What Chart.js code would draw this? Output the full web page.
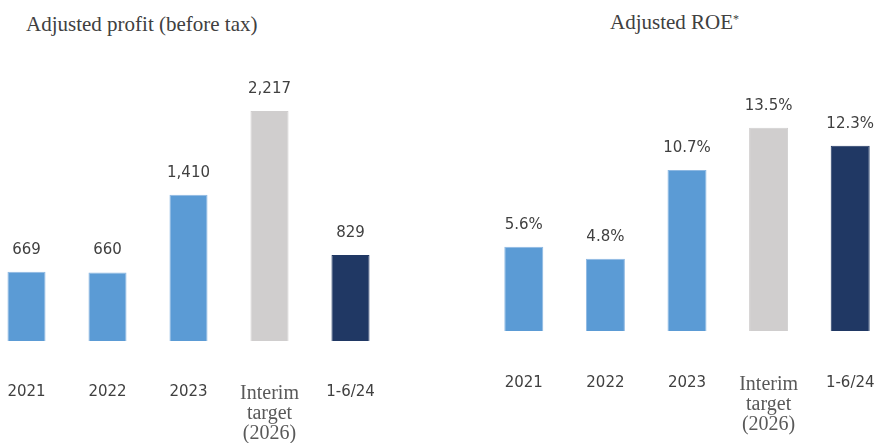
<!DOCTYPE html>
<html>
<head>
<meta charset="utf-8">
<script src="https://cdn.jsdelivr.net/npm/chart.js@4.4.1/dist/chart.umd.min.js"></script>
<style>
  html, body { margin:0; padding:0; width:876px; height:443px; overflow:hidden; background:#fff; position:relative; }
  .title { position:absolute; font-family:"Liberation Serif", serif; font-size:21px; color:#404040; white-space:nowrap; line-height:1; }
  .title sup { font-size:12px; vertical-align:6px; }
  .wrap { position:absolute; top:60px; }
</style>
</head>
<body>
<div class="title" style="left:26px; top:14px;">Adjusted profit (before tax)</div>
<div class="title" style="left:610px; top:12px;">Adjusted ROE<sup>*</sup></div>
<div class="wrap" style="left:-14px; width:405px; height:387px;"><canvas id="c1"></canvas></div>
<div class="wrap" style="left:483px; width:408px; height:383px;"><canvas id="c2"></canvas></div>
<script>
const categories = ["2021", "2022", "2023", ["Interim", "target", "(2026)"], "1-6/24"];
const profitValues = [669, 660, 1410, 2217, 829];
const roeValues = [5.6, 4.8, 10.7, 13.5, 12.3];
const barColors = ["#5B9BD5", "#5B9BD5", "#5B9BD5", "#D0CECE", "#203864"];
const borderColors = ["#8DB8E2", "#8DB8E2", "#8DB8E2", "#D0CECE", "#203864"];

const valueLabels = {
  id: "valueLabels",
  afterDatasetsDraw(chart, args, opts) {
    const ctx = chart.ctx;
    const meta = chart.getDatasetMeta(0);
    ctx.save();
    ctx.font = "15px 'DejaVu Sans'";
    ctx.fillStyle = "#404040";
    ctx.textAlign = "center";
    ctx.textBaseline = "middle";
    meta.data.forEach((bar, i) => {
      ctx.fillText(opts.format(chart.data.datasets[0].data[i]), bar.x, bar.y - 22);
    });
    ctx.restore();
  }
};

function makeChart(id, values, yMax, barPct, fmt, padBottom, tickLen) {
  return new Chart(document.getElementById(id), {
    type: "bar",
    data: {
      labels: categories,
      datasets: [{
        data: values,
        backgroundColor: barColors,
        borderColor: borderColors,
        borderWidth: 1,
        barPercentage: barPct,
        categoryPercentage: 1.0
      }]
    },
    options: {
      responsive: true,
      maintainAspectRatio: false,
      animation: false,
      layout: { padding: { left: 0, right: 0, top: 0, bottom: padBottom } },
      plugins: {
        legend: { display: false },
        tooltip: { enabled: false },
        valueLabels: { format: fmt }
      },
      scales: {
        x: {
          offset: true,
          border: { display: false },
          grid: { display: true, drawOnChartArea: false, drawTicks: true, tickLength: tickLen, color: "rgba(0,0,0,0)" },
          ticks: {
            padding: 3,
            maxRotation: 0,
            autoSkip: false,
            color: (c) => c.index === 3 ? "#595959" : "#404040",
            font: (c) => c.index === 3
              ? { family: "'Liberation Serif'", size: 20, lineHeight: 1.0 }
              : { family: "'DejaVu Sans'", size: 15, lineHeight: 1.05 }
          }
        },
        y: {
          display: false,
          min: 0,
          max: yMax
        }
      }
    },
    plugins: [valueLabels]
  });
}

makeChart("c1", profitValues, 2710, 0.47, v => v.toLocaleString("en-US"), 0, 40);
makeChart("c2", roeValues, 18, 0.478, v => v.toFixed(1) + "%", 5, 41);
</script>
</body>
</html>
